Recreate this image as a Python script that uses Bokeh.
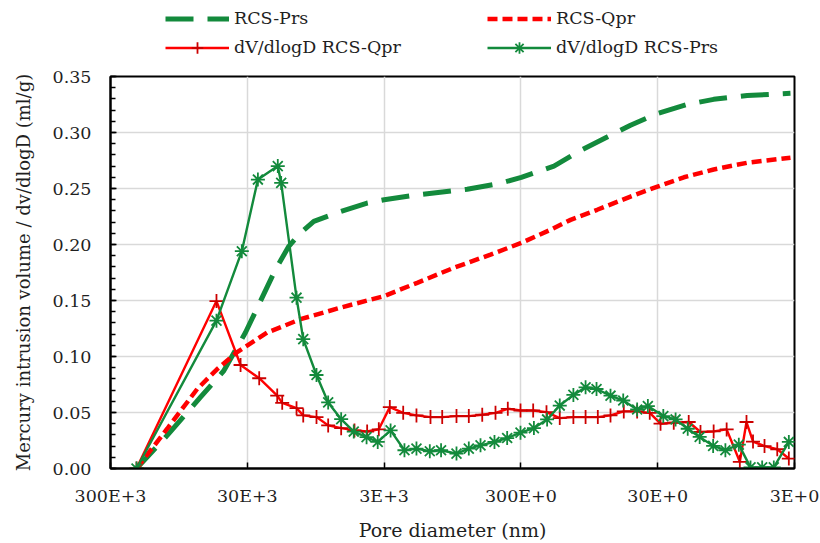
from bokeh.plotting import figure
from bokeh.layouts import column
from bokeh.models import Range1d, FixedTicker, Legend, LegendItem, NumeralTickFormatter
from bokeh.embed import file_html
from bokeh.resources import INLINE

# ---- data (pore diameter in nm, volume in ml/g) ----
x_ticks = [3e5, 3e4, 3e3, 300, 30, 3]
x_tick_labels = ["300E+3", "30E+3", "3E+3", "300E+0", "30E+0", "3E+0"]
y_ticks = [0.0, 0.05, 0.10, 0.15, 0.20, 0.25, 0.30, 0.35]

d_cum_prs = [193600, 115500, 65950, 44560, 30930, 24020, 18660, 14920, 12250, 9795,
             6249, 3990, 2995, 1718, 741, 423, 298, 172, 110, 70.2, 47.4, 30.1, 18.3,
             11.7, 6.65, 3.21]
v_cum_prs = [0, 0.0296, 0.0637, 0.0873, 0.1214, 0.1495, 0.1777, 0.1984, 0.2103, 0.2206,
             0.2295, 0.237, 0.240, 0.2443, 0.2494, 0.2547, 0.260, 0.270, 0.284, 0.296,
             0.3065, 0.317, 0.325, 0.3296, 0.333, 0.335]

d_cum_qpr = [193600, 115500, 69700, 49790, 35550, 21460, 12250, 6249, 2995, 1718, 928,
             500, 298, 182, 130, 83.1, 47.4, 30.1, 19.3, 11.7, 6.65, 3.21]
v_cum_qpr = [0, 0.0355, 0.071, 0.0888, 0.104, 0.1214, 0.1333, 0.1436, 0.154, 0.1658,
             0.1792, 0.191, 0.2014, 0.2132, 0.222, 0.231, 0.2428, 0.2517, 0.260, 0.267,
             0.273, 0.2775]

d_dv_qpr = [193600, 50400, 33600, 24550, 18130, 16670, 13100, 11700, 9360, 7690, 6180,
            4940, 3990, 3280, 2725, 2175, 1740, 1374, 1128, 887, 721, 575, 460, 374, 302,
            244, 195, 156, 124, 101, 82.2, 66.4, 53.1, 42.4, 34.3, 28.6, 22.9, 17.8, 14.6,
            11.7, 9.4, 7.53, 6.73, 6.03, 4.97, 4.01, 3.30]
v_dv_qpr = [0, 0.1495, 0.0924, 0.0806, 0.0651, 0.0586, 0.0539, 0.0474, 0.0459, 0.0385,
            0.036, 0.034, 0.033, 0.035, 0.0548, 0.0497, 0.0474, 0.0459, 0.0459, 0.0468,
            0.0468, 0.048, 0.0497, 0.0533, 0.0518, 0.0518, 0.0503, 0.045, 0.0459, 0.0459,
            0.0459, 0.0474, 0.051, 0.051, 0.0497, 0.040, 0.0409, 0.0415, 0.0326, 0.0331,
            0.0349, 0.006, 0.0415, 0.024, 0.020, 0.0172, 0.0089]

d_dv_prs = [193600, 50400, 32900, 25100, 17960, 16960, 13100, 11700, 9360, 7690, 6180,
            5000, 4030, 3340, 2690, 2130, 1740, 1390, 1150, 887, 721, 592, 468, 378, 302,
            241, 193, 156, 124, 101, 84, 66.4, 53.6, 42.4, 35.4, 27.3, 22.2, 18.1, 14.8,
            11.8, 9.6, 7.66, 6.29, 5.17, 4.25, 3.30]
v_dv_prs = [0, 0.132, 0.194, 0.258, 0.270, 0.255, 0.1525, 0.1155, 0.0835, 0.059, 0.044,
            0.033, 0.028, 0.0237, 0.034, 0.0163, 0.0178, 0.0154, 0.0163, 0.0133, 0.0178,
            0.0207, 0.0237, 0.0272, 0.032, 0.0361, 0.0438, 0.0562, 0.0657, 0.0725, 0.071,
            0.065, 0.0607, 0.0527, 0.0557, 0.0468, 0.0438, 0.0355, 0.0282, 0.0202, 0.0163,
            0.0213, 0.001, 0.001, 0.001, 0.0237]

labels = ["RCS-Prs", "RCS-Qpr", "dV/dlogD RCS-Qpr", "dV/dlogD RCS-Prs"]

GREEN = "#138a3c"
RED = "#ff0000"
RED_M = "#cc0000"
FONT = "DejaVu Serif"
TXT = "#1f1f1f"

STY_CUM_PRS = dict(line_color=GREEN, line_width=5, line_dash="28 14")
STY_CUM_QPR = dict(line_color=RED, line_width=4.5, line_dash="10 5")
STY_DV_QPR_L = dict(line_color=RED, line_width=2.4)
STY_DV_QPR_M = dict(marker="cross", size=14, line_color=RED_M, line_width=1.8)
STY_DV_PRS_L = dict(line_color=GREEN, line_width=2.4)
STY_DV_PRS_M = dict(marker="asterisk", size=14, line_color=GREEN, line_width=1.8)

# ---------------- main plot ----------------
p = figure(width=820, height=477, x_axis_type="log", title=None,
           x_range=Range1d(3e5, 3), y_range=Range1d(0, 0.35),
           output_backend="svg", toolbar_location=None,
           min_border_left=110, min_border_right=26,
           min_border_top=10, min_border_bottom=73)
p.background_fill_color = "white"
p.border_fill_color = "white"
p.outline_line_color = "black"
p.outline_line_width = 2

p.line(d_cum_prs, v_cum_prs, **STY_CUM_PRS)
p.line(d_cum_qpr, v_cum_qpr, **STY_CUM_QPR)
p.line(d_dv_qpr, v_dv_qpr, **STY_DV_QPR_L)
p.scatter(d_dv_qpr, v_dv_qpr, **STY_DV_QPR_M)
p.line(d_dv_prs, v_dv_prs, **STY_DV_PRS_L)
p.scatter(d_dv_prs, v_dv_prs, **STY_DV_PRS_M)

xt = FixedTicker(ticks=x_ticks, minor_ticks=[])
p.xaxis.ticker = xt
p.xaxis.major_label_overrides = {t: l for t, l in zip(x_ticks, x_tick_labels)}
p.xgrid.ticker = xt
yt = FixedTicker(ticks=y_ticks, minor_ticks=[round(i * 0.01, 2) for i in range(36)])
p.yaxis.ticker = yt
p.ygrid.ticker = yt
p.yaxis.formatter = NumeralTickFormatter(format="0.00")

for ax in (p.xaxis[0], p.yaxis[0]):
    ax.axis_line_color = "black"
    ax.axis_line_width = 2
    ax.major_tick_line_color = "black"
    ax.major_tick_line_width = 1.5
    ax.major_tick_in = 6
    ax.major_tick_out = 0
    ax.minor_tick_line_color = "black"
    ax.minor_tick_line_width = 1.5
    ax.minor_tick_in = 5
    ax.minor_tick_out = 0
    ax.major_label_text_font = FONT
    ax.major_label_text_font_size = "17.5px"
    ax.major_label_text_color = TXT
    ax.axis_label_text_font = FONT
    ax.axis_label_text_font_style = "normal"
    ax.axis_label_text_color = TXT
p.xaxis.axis_label_text_font_size = "19px"
p.yaxis.axis_label_text_font_size = "18px"
p.xaxis.minor_tick_line_color = None
p.xaxis.major_label_standoff = 17
p.yaxis.major_label_standoff = 19
p.xaxis.axis_label = "Pore diameter (nm)"
p.yaxis.axis_label = "Mercury intrusion volume / dv/dlogD (ml/g)"
p.xaxis.axis_label_standoff = 10
p.yaxis.axis_label_standoff = 16

for g in (p.xgrid[0], p.ygrid[0]):
    g.grid_line_color = "#d9d9d9"
    g.grid_line_width = 1.5

# ---------------- legend strip (its frame lines up with the main frame) ----------------
lf = figure(width=820, height=66, title=None, output_backend="svg", toolbar_location=None,
            x_range=Range1d(0, 1), y_range=Range1d(0, 1),
            x_axis_location=None, y_axis_location=None,
            min_border_left=0, min_border_right=0, min_border_top=0, min_border_bottom=0)
lf.outline_line_color = None
lf.grid.visible = False
lf.background_fill_color = "white"
lf.border_fill_color = "white"

# legend proxies, kept outside the strip's visible range
px, py = [5, 6], [5, 6]
q1 = lf.line(px, py, **STY_CUM_PRS)
q2 = lf.line(px, py, **STY_CUM_QPR)
q3l = lf.line(px, py, **STY_DV_QPR_L)
q3m = lf.scatter(px, py, **STY_DV_QPR_M)
q4l = lf.line(px, py, **STY_DV_PRS_L)
q4m = lf.scatter(px, py, **STY_DV_PRS_M)

def make_legend(items, bottom):
    return Legend(items=items, location=(55, bottom), orientation="horizontal",
                  padding=0, margin=0, spacing=0, border_line_color=None,
                  background_fill_alpha=0, glyph_width=64, glyph_height=29,
                  label_standoff=5, label_width=253, label_height=29,
                  label_text_font=FONT, label_text_font_size="17.5px",
                  label_text_color=TXT)

leg1 = make_legend([LegendItem(label=labels[0], renderers=[q1]),
                    LegendItem(label=labels[1], renderers=[q2])], 33.5)
leg2 = make_legend([LegendItem(label=labels[2], renderers=[q3l, q3m]),
                    LegendItem(label=labels[3], renderers=[q4l, q4m])], 4.5)
lf.add_layout(leg1, "center")
lf.add_layout(leg2, "center")

layout = column(lf, p, spacing=0)
open("out.html", "w").write(file_html(layout, INLINE))
